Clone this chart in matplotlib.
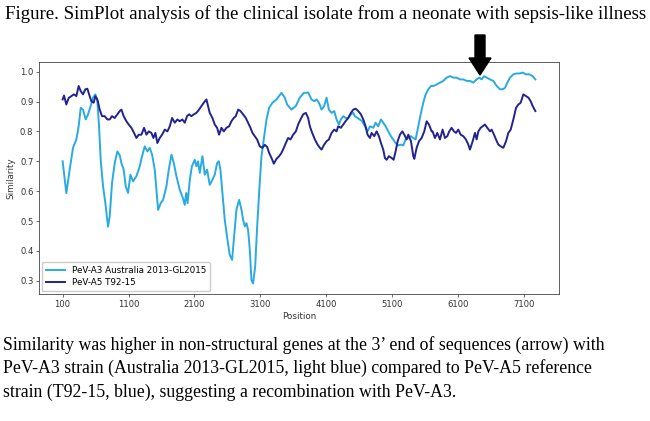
import numpy as np
import matplotlib
matplotlib.use('Agg')
import matplotlib.pyplot as plt
import matplotlib.transforms as mtransforms
from matplotlib.patches import Polygon

# PeV-A3 Australia 2013-GL2015 (light blue)
a3_pos = [100, 156, 207, 257, 308, 343, 374, 409, 450, 485,
          525, 561, 596, 627, 652, 677, 713, 748, 789, 814,
          849, 890, 930, 966, 991, 1026, 1057, 1092, 1128, 1168,
          1219, 1269, 1305, 1345, 1386, 1421, 1457, 1497, 1522, 1548,
          1588, 1624, 1674, 1710, 1750, 1786, 1826, 1876,
          1927, 1952, 1975, 1995, 2030, 2060, 2104, 2129, 2154, 2180,
          2220, 2256, 2291, 2331, 2372, 2407, 2443, 2468, 2493, 2524,
          2559, 2600, 2635, 2670, 2696, 2736, 2777, 2812, 2837, 2863,
          2888, 2913, 2939, 2964, 2989, 3020, 3050, 3080, 3116, 3151,
          3192, 3232, 3283, 3343, 3419, 3470, 3505, 3571, 3637, 3698,
          3758, 3824, 3875, 3916, 3951, 3987, 4027, 4067, 4103, 4138,
          4179, 4219, 4255, 4290, 4320, 4356, 4391, 4432, 4472, 4508,
          4533, 4573, 4609, 4644, 4685, 4725, 4761, 4811, 4847, 4887,
          4928, 4963, 4999, 5039, 5079, 5115, 5150, 5191, 5231, 5267,
          5302, 5343, 5383, 5419, 5454, 5494, 5535, 5570, 5606, 5646,
          5687, 5722, 5772, 5823, 5873, 5924, 5975, 6025, 6076, 6126,
          6177, 6228, 6278, 6329, 6379, 6420, 6455, 6491, 6531, 6582,
          6632, 6683, 6734, 6774, 6810, 6845, 6885, 6936, 6987, 7037,
          7078, 7128, 7179, 7229, 7270]
a3_sim = [0.700, 0.593, 0.672, 0.745, 0.773, 0.817, 0.879, 0.873, 0.840, 0.857,
          0.885, 0.913, 0.924, 0.900, 0.817, 0.705, 0.616, 0.560, 0.481, 0.515,
          0.627, 0.694, 0.733, 0.720, 0.694, 0.672, 0.616, 0.594, 0.655, 0.633,
          0.650, 0.683, 0.717, 0.750, 0.733, 0.745, 0.722, 0.672, 0.605, 0.537,
          0.560, 0.571, 0.616, 0.672, 0.722, 0.694, 0.650, 0.605,
          0.575, 0.554, 0.594, 0.560, 0.640, 0.683, 0.705, 0.683, 0.700, 0.661,
          0.717, 0.655, 0.672, 0.621, 0.638, 0.655, 0.694, 0.700, 0.672, 0.594,
          0.504, 0.437, 0.386, 0.370, 0.437, 0.538, 0.571, 0.538, 0.504, 0.482,
          0.493, 0.470, 0.403, 0.302, 0.291, 0.347, 0.480, 0.594, 0.717, 0.773,
          0.840, 0.879, 0.896, 0.907, 0.929, 0.913, 0.890, 0.873, 0.885, 0.913,
          0.929, 0.930, 0.907, 0.901, 0.907, 0.896, 0.873, 0.885, 0.913, 0.873,
          0.862, 0.868, 0.840, 0.823, 0.840, 0.851, 0.845, 0.845, 0.857, 0.862,
          0.851, 0.845, 0.840, 0.834, 0.817, 0.800, 0.817, 0.812, 0.829, 0.817,
          0.840, 0.829, 0.817, 0.800, 0.784, 0.773, 0.761, 0.753, 0.756, 0.753,
          0.773, 0.778, 0.784, 0.778, 0.773, 0.817, 0.862, 0.896, 0.924, 0.941,
          0.952, 0.952, 0.957, 0.963, 0.969, 0.980, 0.985, 0.980, 0.980, 0.974,
          0.974, 0.969, 0.969, 0.963, 0.974, 0.980, 0.974, 0.985, 0.980, 0.974,
          0.969, 0.952, 0.941, 0.941, 0.946, 0.963, 0.980, 0.991, 0.994, 0.994,
          0.997, 0.991, 0.991, 0.985, 0.974]

# PeV-A5 T92-15 (dark blue)
a5_pos = [100, 121, 156, 192, 232, 272, 308, 343, 374, 409,
          445, 475, 510, 536, 571, 596, 627, 662, 698, 738,
          778, 814, 849, 890, 930, 966, 991, 1026, 1067, 1102,
          1143, 1183, 1219, 1254, 1295, 1335, 1371, 1406, 1446, 1477,
          1507, 1537, 1573, 1608, 1649, 1689, 1725, 1760, 1801, 1841,
          1876, 1916, 1952, 1987, 2018, 2053, 2089, 2129, 2169, 2205,
          2240, 2281, 2306, 2331, 2372, 2407, 2443, 2473, 2509, 2544,
          2584, 2625, 2660, 2696, 2726, 2762, 2797, 2837, 2878, 2913,
          2949, 2979, 3015, 3050, 3090, 3131, 3166, 3202, 3232, 3268,
          3303, 3343, 3384, 3419, 3455, 3485, 3521, 3556, 3596, 3637,
          3672, 3708, 3748, 3789, 3824, 3850, 3885, 3926, 3966, 4002,
          4027, 4067, 4103, 4138, 4179, 4219, 4255, 4280, 4320, 4356,
          4391, 4432, 4472, 4508, 4543, 4584, 4624, 4660, 4695, 4725,
          4761, 4786, 4826, 4862, 4897, 4928, 4963, 4988, 5014, 5049,
          5090, 5120, 5150, 5181, 5216, 5252, 5282, 5317, 5343, 5383,
          5419, 5434, 5469, 5505, 5545, 5585, 5621, 5656, 5697, 5711,
          5747, 5782, 5823, 5863, 5899, 5934, 5964, 6000, 6035, 6066,
          6101, 6137, 6177, 6217, 6253, 6278, 6319, 6354, 6379, 6405,
          6440, 6470, 6506, 6541, 6582, 6607, 6643, 6673, 6708, 6744,
          6784, 6825, 6860, 6896, 6936, 6977, 7012, 7047, 7088, 7128,
          7164, 7199, 7229, 7270]
a5_sim = [0.907, 0.920, 0.890, 0.912, 0.918, 0.924, 0.918, 0.952, 0.935, 0.924,
          0.941, 0.943, 0.918, 0.901, 0.896, 0.918, 0.907, 0.873, 0.851, 0.851,
          0.840, 0.840, 0.851, 0.845, 0.857, 0.868, 0.873, 0.851, 0.834, 0.823,
          0.812, 0.795, 0.778, 0.789, 0.789, 0.812, 0.789, 0.800, 0.795, 0.778,
          0.795, 0.761, 0.778, 0.789, 0.806, 0.800, 0.817, 0.845, 0.829, 0.840,
          0.834, 0.840, 0.829, 0.851, 0.857, 0.851, 0.857, 0.862, 0.873, 0.885,
          0.896, 0.907, 0.885, 0.862, 0.845, 0.823, 0.812, 0.789, 0.812, 0.800,
          0.812, 0.817, 0.834, 0.845, 0.851, 0.873, 0.868, 0.857, 0.845, 0.829,
          0.812, 0.795, 0.784, 0.773, 0.750, 0.745, 0.755, 0.748, 0.728, 0.711,
          0.692, 0.708, 0.717, 0.728, 0.745, 0.761, 0.778, 0.773, 0.789, 0.800,
          0.823, 0.840, 0.857, 0.862, 0.845, 0.817, 0.795, 0.773, 0.756, 0.745,
          0.739, 0.756, 0.767, 0.773, 0.795, 0.806, 0.800, 0.817, 0.812, 0.823,
          0.834, 0.845, 0.862, 0.873, 0.876, 0.868, 0.857, 0.840, 0.817, 0.789,
          0.778, 0.795, 0.784, 0.800, 0.784, 0.761, 0.739, 0.711, 0.705, 0.717,
          0.711, 0.705, 0.733, 0.767, 0.789, 0.800, 0.789, 0.773, 0.789, 0.767,
          0.717, 0.708, 0.745, 0.767, 0.778, 0.800, 0.834, 0.823, 0.800, 0.800,
          0.778, 0.795, 0.773, 0.806, 0.778, 0.784, 0.800, 0.812, 0.800, 0.795,
          0.806, 0.789, 0.784, 0.773, 0.756, 0.739, 0.767, 0.795, 0.773, 0.800,
          0.812, 0.817, 0.823, 0.812, 0.800, 0.806, 0.789, 0.773, 0.756, 0.750,
          0.745, 0.767, 0.795, 0.806, 0.840, 0.879, 0.890, 0.896, 0.924, 0.918,
          0.913, 0.901, 0.885, 0.868]

xticks = [100, 1100, 2100, 3100, 4100, 5100, 6100, 7100]
yticks = [0.3, 0.4, 0.5, 0.6, 0.7, 0.8, 0.9, 1.0]

title = "Figure. SimPlot analysis of the clinical isolate from a neonate with sepsis-like illness"
caption = ["Similarity was higher in non-structural genes at the 3\u2019 end of sequences (arrow) with",
           "PeV-A3 strain (Australia 2013-GL2015, light blue) compared to PeV-A5 reference",
           "strain (T92-15, blue), suggesting a recombination with PeV-A3."]

W, H = 650, 421
fig = plt.figure(figsize=(W / 100, H / 100), dpi=100)
ax = fig.add_axes([39 / W, 1 - 294 / H, 520 / W, 232 / H])

ax.plot(a3_pos, a3_sim, color='#29abe2', lw=1.4, label='PeV-A3 Australia 2013-GL2015')
ax.plot(a5_pos, a5_sim, color='#23238f', lw=1.4, label='PeV-A5 T92-15')

ax.set_xticks(xticks)
ax.set_yticks(yticks)
ax.set_yticklabels(['%.1f' % t for t in yticks])
ax.tick_params(labelsize=6.1, length=2, width=0.5, pad=2, colors='#333333')
for s in ax.spines.values():
    s.set_linewidth(0.6)
    s.set_color('#444444')
ax.set_xlabel('Position', fontsize=6.3, labelpad=2.5, color='#333333')
ax.set_ylabel('Similarity', fontsize=6.3, labelpad=3, color='#333333')
ax.legend(loc='lower left', fontsize=6.3, handlelength=2.2, borderpad=0.45,
          labelspacing=0.35, borderaxespad=0.3, framealpha=1, edgecolor='#cccccc')

serif = ['Liberation Serif', 'DejaVu Serif']
fig.text(5 / W, 1 - 14 / H, title, fontsize=13.6, family=serif, va='center')
for i, line in enumerate(caption):
    fig.text(3 / W, 1 - (345 + 23.5 * i) / H, line, fontsize=12.8, family=serif, va='center')

# arrow marking the 3' end (pixel coordinates, y measured from the top)
px = mtransforms.Affine2D().scale(1 / W, -1 / H).translate(0, 1) + fig.transFigure
arrow = Polygon([(475, 35), (485, 35), (485, 58), (491, 58), (480, 75), (469, 58), (475, 58)],
                closed=True, facecolor='black', edgecolor='black', transform=px)
fig.patches.append(arrow)

fig.savefig('out.png', dpi=100)
